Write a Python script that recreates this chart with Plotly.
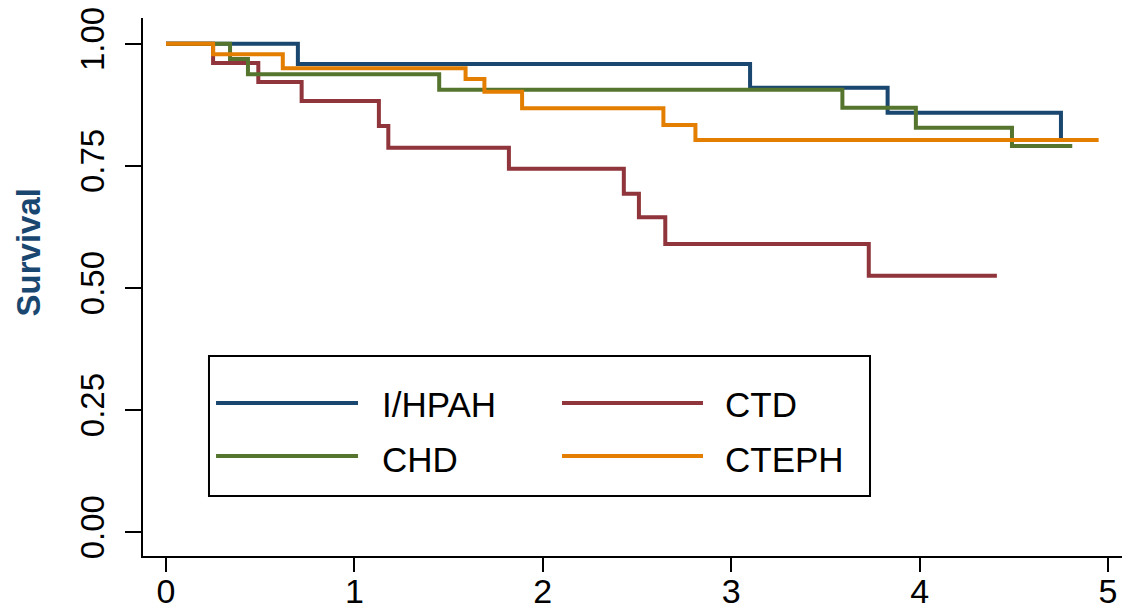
import plotly.graph_objects as go

# Kaplan-Meier survival estimates (years since diagnosis)
ihpah_t = [0.0, 0.70, 3.10, 3.83, 4.75]
ihpah_s = [1.000, 0.959, 0.910, 0.859, 0.803]

ctd_t = [0.0, 0.25, 0.49, 0.72, 1.13, 1.18, 1.82, 2.43, 2.51, 2.65, 3.73, 4.41]
ctd_s = [1.000, 0.961, 0.922, 0.883, 0.832, 0.787, 0.744, 0.693, 0.645, 0.590, 0.525, 0.525]

chd_t = [0.0, 0.34, 0.435, 1.45, 3.59, 3.98, 4.49, 4.81]
chd_s = [1.000, 0.969, 0.938, 0.906, 0.869, 0.828, 0.791, 0.791]

cteph_t = [0.0, 0.25, 0.62, 1.59, 1.69, 1.89, 2.64, 2.81, 4.95]
cteph_s = [1.000, 0.979, 0.950, 0.928, 0.902, 0.868, 0.834, 0.803, 0.803]

x_ticks = [0, 1, 2, 3, 4, 5]
y_ticks = [0.0, 0.25, 0.5, 0.75, 1.0]
y_tick_text = ["0.00", "0.25", "0.50", "0.75", "1.00"]

series = [
    ("I/HPAH", ihpah_t, ihpah_s, "#1a476f"),
    ("CTD", ctd_t, ctd_s, "#90353b"),
    ("CHD", chd_t, chd_s, "#55752f"),
    ("CTEPH", cteph_t, cteph_s, "#e37e00"),
]

FONT = "Liberation Sans, Arial, sans-serif"

fig = go.Figure()
for name, t, s, color in series:
    fig.add_trace(go.Scatter(
        x=t, y=s, mode="lines", name=name,
        line=dict(color=color, width=4, shape="hv"),
        showlegend=False,
    ))

# Boxed legend with long line samples, two columns
legend_rows = [(0.2844, 0.2880), (0.1859, 0.1859)]
legend_cols = [(0.0746, 0.2196, 0.2420), (0.428, 0.572, 0.5920)]
legend_order = [[0, 1], [2, 3]]
shapes = [dict(type="rect", xref="paper", yref="paper",
               x0=0.0674, x1=0.7426, y0=0.1115, y1=0.3717,
               line=dict(color="black", width=2), fillcolor="white", layer="above")]
annotations = []
for r, (ly, ty) in enumerate(legend_rows):
    for c, (x0, x1, tx) in enumerate(legend_cols):
        name, _, _, color = series[legend_order[r][c]]
        shapes.append(dict(type="line", xref="paper", yref="paper",
                           x0=x0, x1=x1, y0=ly, y1=ly,
                           line=dict(color=color, width=4), layer="above"))
        annotations.append(dict(xref="paper", yref="paper", x=tx, y=ty - 0.006,
                                text=name, showarrow=False, xanchor="left",
                                yanchor="middle",
                                font=dict(family=FONT, size=35, color="black")))

annotations.append(dict(xref="paper", yref="paper", x=-0.117, y=0.565,
                        text="<b>Survival</b>", textangle=-90, showarrow=False,
                        xanchor="center", yanchor="middle",
                        font=dict(family=FONT, size=33, color="#1a476f")))

fig.update_layout(
    width=1125, height=609,
    margin=dict(l=143, r=3, t=18, b=53),
    paper_bgcolor="white", plot_bgcolor="white",
    shapes=shapes, annotations=annotations,
    xaxis=dict(range=[-0.122, 5.074], tickvals=x_ticks, ticks="outside",
               ticklen=14, tickwidth=2, tickcolor="black",
               ticklabelstandoff=-10,
               showline=True, linecolor="black", linewidth=2,
               showgrid=False, zeroline=False, automargin=False,
               tickfont=dict(family=FONT, size=34, color="black")),
    yaxis=dict(range=[-0.049, 1.053], tickvals=y_ticks, ticktext=y_tick_text,
               ticks="outside", ticklen=16, tickwidth=2, tickcolor="black",
               tickangle=-90, ticklabelstandoff=8,
               showline=True, linecolor="black", linewidth=2,
               showgrid=False, zeroline=False, automargin=False,
               tickfont=dict(family=FONT, size=33, color="black")),
    showlegend=False,
)

fig.write_html("out.html")
